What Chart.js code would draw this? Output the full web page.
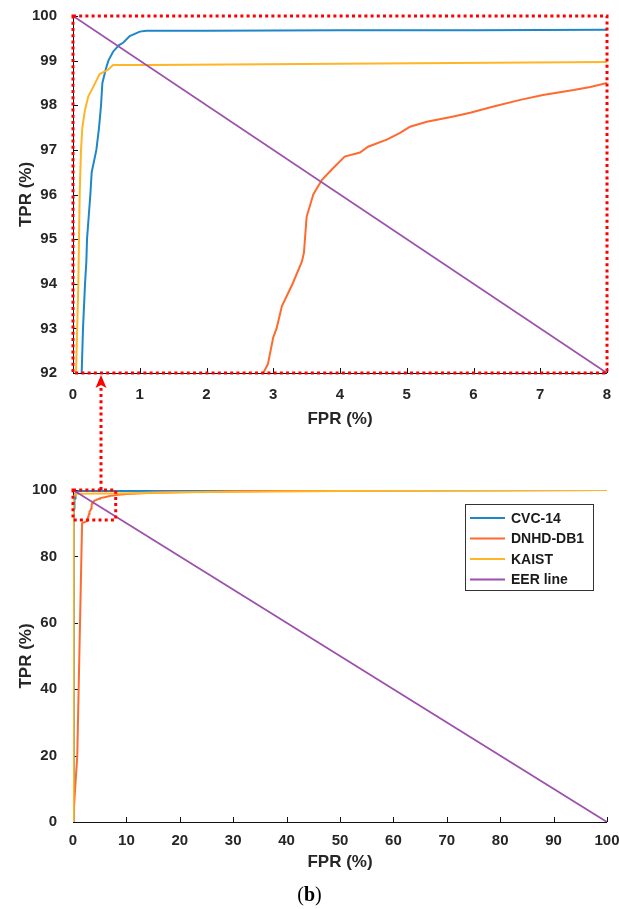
<!DOCTYPE html>
<html>
<head>
<meta charset="utf-8">
<script src="https://cdn.jsdelivr.net/npm/chart.js@4.4.1/dist/chart.umd.min.js"></script>
<style>
html, body { margin: 0; padding: 0; background: #fff; }
#wrap { position: relative; width: 619px; height: 909px; overflow: hidden; }
canvas { position: absolute; left: 0; }
#topChart { top: 0; }
#bottomChart { top: 440px; }
#overlay { top: 0; pointer-events: none; }
#cap { position: absolute; left: 0; width: 619px; top: 881px; text-align: center;
       font: 20px "Liberation Serif", "DejaVu Serif", serif; color: #000; line-height: 26px; }
</style>
</head>
<body>
<div id="wrap">
  <canvas id="topChart" width="619" height="440"></canvas>
  <canvas id="bottomChart" width="619" height="440"></canvas>
  <canvas id="overlay" width="619" height="909"></canvas>
  <div id="cap">(<b>b</b>)</div>
</div>
<script>
var blue = '#1f86c8';
var orange = '#ff6a2e';
var yellow = '#ffb526';
var purple = '#9c4fab';
var fontFam = '"Liberation Sans", Arial, sans-serif';
var textCol = '#262626';

// series names (legend order)
var seriesNames = ['CVC-14', 'DNHD-DB1', 'KAIST', 'EER line'];

// ROC curves, FPR (%) / TPR (%)
var cvcFpr = [0, 0.1, 0.13, 0.15, 0.18, 0.2, 0.21, 0.26, 0.28, 0.35, 0.39, 0.42, 0.44, 0.49, 0.53, 0.6, 0.69, 0.75, 0.85, 1.0, 1.1, 2, 4, 6, 8, 20, 50, 100];
var cvcTpr = [0, 85, 92, 93, 94, 94.5, 95, 96, 96.5, 97, 97.5, 98, 98.5, 98.8, 99, 99.2, 99.35, 99.4, 99.55, 99.65, 99.67, 99.67, 99.68, 99.68, 99.69, 99.75, 99.85, 100];

var dnhdFpr = [0, 0.8, 1.7, 2.6, 2.85, 2.92, 3.0, 3.05, 3.13, 3.29, 3.43, 3.46, 3.5, 3.6, 3.73, 3.87, 4.07, 4.3, 4.42, 4.7, 4.9, 5.05, 5.3, 5.7, 5.95, 6.3, 6.7, 7.04, 7.5, 7.75, 8, 10, 15, 30, 60, 100];
var dnhdTpr = [0, 20, 90, 90.6, 92, 92.2, 92.8, 93, 93.5, 94, 94.5, 94.7, 95.5, 96, 96.33, 96.55, 96.85, 96.94, 97.07, 97.23, 97.38, 97.52, 97.63, 97.75, 97.83, 97.97, 98.12, 98.23, 98.34, 98.41, 98.5, 98.8, 99.2, 99.6, 99.9, 100];

var kaistFpr = [0, 0.03, 0.045, 0.08, 0.1, 0.12, 0.14, 0.18, 0.23, 0.3, 0.4, 0.53, 0.6, 1.15, 4, 8, 20, 50, 100];
var kaistTpr = [0, 90, 92, 94, 96, 97, 97.5, 97.9, 98.2, 98.4, 98.7, 98.8, 98.9, 98.9, 98.93, 98.97, 99.3, 99.7, 100];

var eerFpr = [0, 100];
var eerTpr = [100, 0];

// zoomed region shown in the upper plot
var zoomX = [0, 8];
var zoomY = [92, 100];
var zoomBoxY = [91, 100];
var arrowFpr = 5.2;

function pts(xs, ys) {
  return xs.map(function (x, i) { return { x: x, y: ys[i] }; });
}

function datasets() {
  var cols = [blue, orange, yellow, purple];
  var src = [[cvcFpr, cvcTpr], [dnhdFpr, dnhdTpr], [kaistFpr, kaistTpr], [eerFpr, eerTpr]];
  return src.map(function (s, i) {
    return {
      label: seriesNames[i],
      data: pts(s[0], s[1]),
      borderColor: cols[i],
      backgroundColor: cols[i],
      borderWidth: i == 3 ? 1.8 : 2,
      showLine: true,
      pointRadius: 0,
      tension: 0,
      order: 4 - i
    };
  });
}

function axis(min, max, step, tickPad, titlePad, size, isY) {
  return {
    type: 'linear',
    min: min, max: max,
    grid: { display: false },
    border: { display: false },
    ticks: { stepSize: step, padding: tickPad, color: textCol, font: { family: fontFam, size: 15, weight: 'bold' } },
    title: {
      display: true,
      text: isY ? 'TPR (%)' : 'FPR (%)',
      color: textCol,
      font: { family: fontFam, size: 17, weight: 'bold' },
      padding: isY ? { top: titlePad, bottom: 0 } : { top: 0, bottom: titlePad }
    },
    afterFit: function (s) {
      if (isY) s.width = size; else s.height = size;
      // let edge labels overhang instead of shrinking the plot
      s.paddingLeft = s.paddingRight = s.paddingTop = s.paddingBottom = 0;
    }
  };
}

// axis lines and inward tick marks
var axisFrame = {
  id: 'axisFrame',
  beforeDatasetsDraw: function (chart) {
    var ctx = chart.ctx, a = chart.chartArea, xs = chart.scales.x, ys = chart.scales.y;
    ctx.save();
    ctx.strokeStyle = '#111';
    ctx.lineWidth = 1;
    ctx.beginPath();
    ctx.moveTo(a.left + 0.5, a.top);
    ctx.lineTo(a.left + 0.5, a.bottom + 0.5);
    ctx.lineTo(a.right, a.bottom + 0.5);
    xs.ticks.forEach(function (t) {
      var p = Math.round(xs.getPixelForValue(t.value)) + 0.5;
      ctx.moveTo(p, a.bottom);
      ctx.lineTo(p, a.bottom - 5);
    });
    ys.ticks.forEach(function (t) {
      var p = Math.round(ys.getPixelForValue(t.value)) + 0.5;
      ctx.moveTo(a.left, p);
      ctx.lineTo(a.left + 5, p);
    });
    ctx.stroke();
    ctx.restore();
  }
};

// red dotted zoom rectangle
var zoomBox = {
  id: 'zoomBox',
  afterDatasetsDraw: function (chart, args, opts) {
    var ctx = chart.ctx, xs = chart.scales.x, ys = chart.scales.y;
    var x0 = xs.getPixelForValue(opts.x[0]), x1 = xs.getPixelForValue(opts.x[1]);
    var y0 = ys.getPixelForValue(opts.y[1]), y1 = ys.getPixelForValue(opts.y[0]);
    ctx.save();
    ctx.strokeStyle = '#ff0000';
    ctx.lineWidth = 3;
    ctx.setLineDash([3, 3.2]);
    ctx.strokeRect(x0, y0, x1 - x0, y1 - y0);
    ctx.restore();
  }
};

// boxed legend inside the plot
var boxLegend = {
  id: 'boxLegend',
  afterDraw: function (chart) {
    var ctx = chart.ctx, a = chart.chartArea;
    var left = a.right - 142, top = a.top + 14, w = 128, h = 86;
    ctx.save();
    ctx.fillStyle = '#fff';
    ctx.fillRect(left, top, w, h);
    ctx.strokeStyle = '#333';
    ctx.lineWidth = 1;
    ctx.strokeRect(left + 0.5, top + 0.5, w, h);
    ctx.font = 'bold 14px ' + fontFam;
    ctx.textBaseline = 'middle';
    ctx.fillStyle = '#1a1a1a';
    chart.data.datasets.forEach(function (ds, i) {
      var y = top + 14 + i * 20.5;
      ctx.strokeStyle = ds.borderColor;
      ctx.lineWidth = 2;
      ctx.beginPath();
      ctx.moveTo(left + 5, y);
      ctx.lineTo(left + 40, y);
      ctx.stroke();
      ctx.fillText(ds.label, left + 46, y + 1);
    });
    ctx.restore();
  }
};

var topChart = new Chart(document.getElementById('topChart'), {
  type: 'scatter',
  data: { datasets: datasets() },
  options: {
    responsive: false,
    animation: false,
    layout: { padding: { top: 16, right: 12, left: 0, bottom: 0 } },
    scales: {
      x: axis(zoomX[0], zoomX[1], 1, 5, 10, 67, false),
      y: axis(zoomY[0], zoomY[1], 1, 8, 16, 73, true)
    },
    plugins: {
      legend: { display: false },
      tooltip: { enabled: false },
      zoomBox: { x: zoomX, y: zoomY }
    }
  },
  plugins: [axisFrame, zoomBox]
});

var bottomChart = new Chart(document.getElementById('bottomChart'), {
  type: 'scatter',
  data: { datasets: datasets() },
  options: {
    responsive: false,
    animation: false,
    layout: { padding: { top: 50, right: 12, left: 0, bottom: 0 } },
    scales: {
      x: axis(0, 100, 10, 2, 7, 58, false),
      y: axis(0, 100, 20, 8, 16, 73, true)
    },
    plugins: {
      legend: { display: false },
      tooltip: { enabled: false },
      zoomBox: { x: zoomX, y: zoomBoxY }
    }
  },
  plugins: [axisFrame, zoomBox, boxLegend]
});

// dotted arrow from the small box up to the zoomed plot
(function () {
  var ctx = document.getElementById('overlay').getContext('2d');
  var ax = Math.round(bottomChart.scales.x.getPixelForValue(arrowFpr));
  var yStart = 440 + bottomChart.scales.y.getPixelForValue(zoomBoxY[1]);
  var yTip = topChart.scales.y.getPixelForValue(zoomY[0]) + 2;
  var headH = 13, headW = 11;
  ctx.strokeStyle = '#ff0000';
  ctx.fillStyle = '#ff0000';
  ctx.lineWidth = 3;
  ctx.setLineDash([3, 3.2]);
  ctx.beginPath();
  ctx.moveTo(ax, yStart);
  ctx.lineTo(ax, yTip + headH);
  ctx.stroke();
  ctx.setLineDash([]);
  ctx.beginPath();
  ctx.moveTo(ax, yTip);
  ctx.lineTo(ax - headW / 2, yTip + headH);
  ctx.lineTo(ax, yTip + headH - 3);
  ctx.lineTo(ax + headW / 2, yTip + headH);
  ctx.closePath();
  ctx.fill();
})();
</script>
</body>
</html>
